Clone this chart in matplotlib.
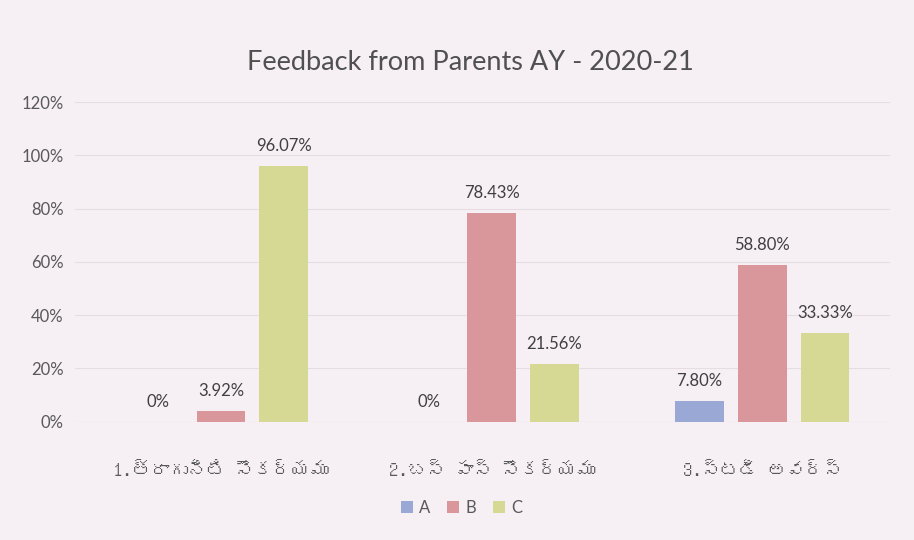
import matplotlib
matplotlib.use('Agg')
import matplotlib.pyplot as plt
from matplotlib import font_manager
from matplotlib.ft2font import FT2Font
import numpy as np

# 数据
categories = ['1.త్రాగునీటి సౌకర్యము', '2.బస్ పాస్ సౌకర్యము', '3.స్టడీ అవర్స్']
series = ['A', 'B', 'C']
vals_a = [0.0, 0.0, 7.80]
vals_b = [3.92, 78.43, 58.80]
vals_c = [96.07, 21.56, 33.33]
labels_a = ['0%', '0%', '7.80%']
labels_b = ['3.92%', '78.43%', '58.80%']
labels_c = ['96.07%', '21.56%', '33.33%']
yticks = [0, 20, 40, 60, 80, 100, 120]
title = 'Feedback from Parents AY - 2020-21'


# 找一个带泰卢固文字形的字体
def find_telugu_font():
    for f in font_manager.fontManager.ttflist:
        try:
            if 0x0C24 in FT2Font(f.fname).get_charmap():
                return f.name
        except Exception:
            pass
    return None


tel = find_telugu_font()
base = ['Lato', 'DejaVu Sans']
tick_family = ([tel] if tel else []) + base
plt.rcParams['font.family'] = base

bg = '#f6eff3'
txt = '#595959'
colors = ['#9aa8d6', '#d9979b', '#d6d993']

fig = plt.figure(figsize=(9.14, 5.4), dpi=100, facecolor=bg)
ax = fig.add_axes([0.082, 0.219, 0.892, 0.592], facecolor=bg)

x = np.arange(len(categories))
w = 0.18
off = 0.232
for i, (vals, labs) in enumerate(zip([vals_a, vals_b, vals_c],
                                     [labels_a, labels_b, labels_c])):
    pos = x + (i - 1) * off
    bars = ax.bar(pos, np.array(vals) / 100, w, color=colors[i],
                  label=series[i], zorder=3)
    for b, lab in zip(bars, labs):
        ax.text(b.get_x() + b.get_width() / 2, b.get_height() + 0.045, lab,
                ha='center', va='bottom', fontsize=12, color='#404040')

ax.set_ylim(0, 1.2)
ax.set_xlim(-0.54, 2.473)
ax.set_yticks(np.array(yticks) / 100)
ax.set_yticklabels([f'{t}%' for t in yticks], fontsize=12, color=txt)
ax.set_xticks(x)
ax.set_xticklabels(categories, fontsize=13.5, color=txt, family=tick_family)
ax.tick_params(axis='both', length=0)
ax.tick_params(axis='x', pad=28)
ax.tick_params(axis='y', pad=8)
ax.grid(axis='y', color='#e6dde2', linewidth=0.8, zorder=0)
for s in ax.spines.values():
    s.set_visible(False)
ax.axhline(0, color='#d9d0d5', linewidth=0.8, zorder=2)

fig.text(0.515, 0.885, title, ha='center', va='center', fontsize=19.5,
         color='#505050')
fig.legend(loc='center', bbox_to_anchor=(0.505, 0.06), ncol=3, frameon=False,
           fontsize=12, handlelength=0.7, handleheight=0.7,
           handletextpad=0.4, columnspacing=1.0, labelcolor=txt)

plt.savefig('out.png', dpi=100, facecolor=bg)
